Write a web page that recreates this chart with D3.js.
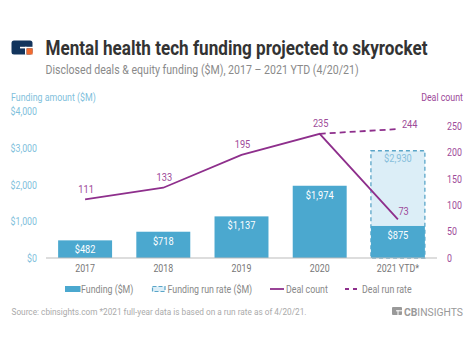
<!DOCTYPE html>
<html><head><meta charset="utf-8">
<script src="https://cdn.jsdelivr.net/npm/d3@7"></script>
<style>body{margin:0;background:#fff}svg{display:block}text{font-family:Roboto,"Noto Sans",sans-serif}</style>
</head><body>
<script>
const years = ["2017","2018","2019","2020","2021 YTD*"];
const funding = [482, 718, 1137, 1974, 875];
const fundingRunRate = [null, null, null, null, 2930];
const dealCount = [111, 133, 195, 235, 73];
const dealRunRate = [null, null, null, 235, 244];
const leftTicks = [0, 1000, 2000, 3000, 4000];
const rightTicks = [0, 50, 100, 150, 200, 250];
const legendLabels = ["Funding ($M)", "Funding run rate ($M)", "Deal count", "Deal run rate"];

const W = 474, H = 355;
const BLUE = "#4ba8cf", LIGHT = "#dceef7", DASHBLUE = "#5aa5c8", PURPLE = "#8e2f8c", PLAB = "#9d4a99", AXBLUE = "#7fbfdc", GRAY = "#888";
const svg = d3.select("body").append("svg").attr("width", W).attr("height", H);

function squeeze(sel, f) {
  sel.each(function(){ const l = this.getComputedTextLength(); this.setAttribute("textLength", l*f); this.setAttribute("lengthAdjust","spacingAndGlyphs"); });
  return sel;
}
function fitScale(g, t, target) {
  const l = t.node().getComputedTextLength();
  const s = Math.min(1, target / l);
  g.attr("transform", g.attr("transform") + " scale(" + s + ",1)");
}
const SQ = 0.84;

// logo
const lg = svg.append("g");
lg.append("rect").attr("x",11.5).attr("y",40.5).attr("width",21).attr("height",14).attr("rx",2.5).attr("fill","#12345c");
lg.append("rect").attr("x",20).attr("y",46.8).attr("width",13).attr("height",1.6).attr("fill","#fff");
lg.append("rect").attr("x",25).attr("y",46.8).attr("width",1.6).attr("height",8).attr("fill","#fff");
lg.append("rect").attr("x",26.6).attr("y",48.4).attr("width",6).attr("height",6.1).attr("fill","#f26a2e");

const tg = svg.append("g").attr("transform","translate(45.5,55)");
const tt = tg.append("text").attr("x",0).attr("y",0).attr("font-size",20).attr("font-weight","bold").attr("fill","#333")
  .text("Mental health tech funding projected to skyrocket");
fitScale(tg, tt, 382);
const sg = svg.append("g").attr("transform","translate(45.5,73.8)");
const st = sg.append("text").attr("x",0).attr("y",0).attr("font-size",13).attr("fill","#8a8a8a")
  .text("Disclosed deals & equity funding ($M), 2017 \u2013 2021 YTD (4/20/21)");
fitScale(sg, st, 313.5);

svg.append("text").attr("x",11).attr("y",101).attr("font-size",10.5).attr("fill",AXBLUE).text("Funding amount ($M)").call(squeeze,SQ);
svg.append("text").attr("x",463).attr("y",101).attr("text-anchor","end").attr("font-size",10.5).attr("fill",PLAB).text("Deal count").call(squeeze,SQ);

const x = d3.scaleBand().domain(years).range([46,437]).paddingInner(0.31).paddingOuter(0.155);
const yL = d3.scaleLinear().domain([0,4000]).range([258,111.6]);
const yR = d3.scaleLinear().domain([0,277]).range([258,111.6]);

// left axis
const la = svg.append("g").attr("transform","translate(37,0)")
  .call(d3.axisLeft(yL).tickValues(leftTicks).tickSize(0).tickPadding(0).tickFormat(d=>"$"+d3.format(",")(d)));
la.select(".domain").remove();
la.selectAll("text").attr("font-size",10.5).attr("fill",AXBLUE).attr("font-family","Roboto").call(squeeze,SQ);
const ra = svg.append("g").attr("transform","translate(447,0)")
  .call(d3.axisRight(yR).tickValues(rightTicks).tickSize(0).tickPadding(0));
ra.select(".domain").remove();
ra.selectAll("text").attr("font-size",10.5).attr("fill",PLAB).attr("font-family","Roboto").call(squeeze,SQ);

// run rate bars
const rr = years.map((y,i)=>({y, v:fundingRunRate[i]})).filter(d=>d.v!=null);
svg.selectAll(".rr").data(rr).enter().append("rect")
  .attr("x",d=>x(d.y)).attr("width",x.bandwidth()).attr("y",d=>yL(d.v)).attr("height",d=>yL(0)-yL(d.v))
  .attr("fill",LIGHT).attr("stroke",DASHBLUE).attr("stroke-width",1.3).attr("stroke-dasharray","4,3");
// bars
const bd = years.map((y,i)=>({y, v:funding[i]}));
svg.selectAll(".bar").data(bd).enter().append("rect")
  .attr("x",d=>x(d.y)).attr("width",x.bandwidth()).attr("y",d=>yL(d.v)).attr("height",d=>yL(0)-yL(d.v)).attr("fill",BLUE);
// baseline
svg.append("line").attr("x1",46).attr("x2",437).attr("y1",258).attr("y2",258).attr("stroke","#bbb").attr("stroke-width",1);

// bar labels
svg.selectAll(".bl").data(bd).enter().append("text")
  .attr("x",d=>x(d.y)+x.bandwidth()/2).attr("y",d=>yL(d.v)+13).attr("text-anchor","middle")
  .attr("font-size",11).attr("fill","#fff").text(d=>"$"+d3.format(",")(d.v)).call(squeeze,SQ);
svg.selectAll(".rl").data(rr).enter().append("text")
  .attr("x",d=>x(d.y)+x.bandwidth()/2).attr("y",d=>yL(d.v)+11.5).attr("text-anchor","middle")
  .attr("font-size",11).attr("fill","#86bedb").text(d=>"$"+d3.format(",")(d.v)).call(squeeze,SQ);

// x labels
svg.selectAll(".xl").data(years).enter().append("text")
  .attr("x",d=>x(d)+x.bandwidth()/2).attr("y",272).attr("text-anchor","middle")
  .attr("font-size",10.5).attr("fill","#777").text(d=>d).call(squeeze,SQ);

// lines
const cx = d=>x(d.y)+x.bandwidth()/2;
const dc = years.map((y,i)=>({y, v:dealCount[i], i}));
const line = d3.line().x(cx).y(d=>yR(d.v));
svg.append("path").datum(dc).attr("d",line).attr("fill","none").attr("stroke",PURPLE).attr("stroke-width",1.8);
const dr = years.map((y,i)=>({y, v:dealRunRate[i], i})).filter(d=>d.v!=null);
svg.append("path").datum(dr).attr("d",line).attr("fill","none").attr("stroke",PURPLE).attr("stroke-width",1.8).attr("stroke-dasharray","6,4");

// line labels
svg.selectAll(".dl").data(dc).enter().append("text")
  .attr("x",d=>d.i===4 ? cx(d)+0.5 : cx(d)+1).attr("y",d=>yR(d.v)-(d.i===4?4:6.5))
  .attr("text-anchor",d=>d.i===4?"start":"middle")
  .attr("font-size",11).attr("fill",PLAB).text(d=>d.v).call(squeeze,SQ);
svg.selectAll(".drl").data(dr.slice(-1)).enter().append("text")
  .attr("x",d=>cx(d)+4).attr("y",d=>yR(d.v)-1.5)
  .attr("font-size",11).attr("fill",PLAB).text(d=>d.v).call(squeeze,SQ);

// legend
const ly = 289;
const leg = svg.append("g");
leg.append("rect").attr("x",65).attr("y",ly-3).attr("width",15.5).attr("height",6).attr("fill",BLUE);
leg.append("rect").attr("x",152.5).attr("y",ly-2.5).attr("width",12.5).attr("height",5).attr("fill",LIGHT).attr("stroke",DASHBLUE).attr("stroke-width",1.2).attr("stroke-dasharray","4,2");
leg.append("line").attr("x1",270).attr("x2",284).attr("y1",ly).attr("y2",ly).attr("stroke",PURPLE).attr("stroke-width",1.8);
leg.append("line").attr("x1",345).attr("x2",359).attr("y1",ly).attr("y2",ly).attr("stroke",PURPLE).attr("stroke-width",1.8).attr("stroke-dasharray","4,4");
const lx = [81, 167.5, 286, 362];
leg.selectAll("text").data(legendLabels).enter().append("text")
  .attr("x",(d,i)=>lx[i]).attr("y",ly+3.8).attr("font-size",10.5).attr("fill",GRAY).text(d=>d).call(squeeze,SQ);

// source
svg.append("text").attr("x",11.5).attr("y",314.5).attr("font-size",9).attr("fill","#aaa")
  .attr("textLength",295).attr("lengthAdjust","spacingAndGlyphs")
  .text("Source: cbinsights.com  *2021 full-year data is based on a run rate as of 4/20/21.");
// CB Insights mark
const cb = svg.append("g").attr("fill","#999");
cb.append("rect").attr("x",392).attr("y",307).attr("width",10).attr("height",8).attr("rx",1);
cb.append("rect").attr("x",396).attr("y",310.3).attr("width",6.5).attr("height",1).attr("fill","#fff");
cb.append("rect").attr("x",397.5).attr("y",310.3).attr("width",1).attr("height",5).attr("fill","#fff");
const ct = svg.append("text").attr("x",404).attr("y",315.5).attr("font-size",11).attr("fill","#999")
  .attr("textLength",59).attr("lengthAdjust","spacingAndGlyphs");
ct.append("tspan").attr("font-weight","bold").text("CB");
ct.append("tspan").text("INSIGHTS");
</script>
</body></html>
